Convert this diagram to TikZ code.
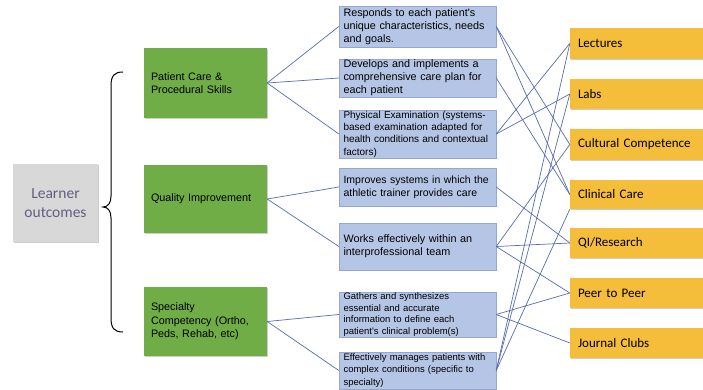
\documentclass[tikz,border=0pt]{standalone}
\usepackage{fontspec}
\newfontfamily\arialf{Liberation Sans}
\newfontfamily\calf{Carlito}
\usetikzlibrary{shadows}
\definecolor{bluefill}{RGB}{181,197,229}
\definecolor{blueline}{RGB}{150,166,208}
\definecolor{greenfill}{RGB}{112,173,71}
\definecolor{yellowfill}{RGB}{244,189,58}
\definecolor{grayfill}{RGB}{216,216,216}
\definecolor{learnertext}{RGB}{98,93,130}
\definecolor{linkcol}{RGB}{88,108,178}
\begin{document}
\begin{tikzpicture}[x=1pt,y=-1pt,
  shd/.style={drop shadow={shadow xshift=1.3pt,shadow yshift=-1.3pt,opacity=0.28,fill=black!70}},
  graybox/.style={fill=grayfill, minimum width=85pt, minimum height=78pt, inner sep=0pt, align=center,
    font=\calf\fontsize{15.5}{19}\selectfont, text=learnertext, shd},
  greenbox/.style={fill=greenfill, minimum width=123pt, text width=109pt, inner xsep=7pt, inner ysep=0pt,
    align=left, font=\arialf\fontsize{10.8}{13.5}\selectfont, shd},
  bluebox/.style={fill=bluefill, draw=blueline, line width=0.4pt, minimum width=157pt, text width=148pt,
    inner xsep=4.5pt, inner ysep=0pt, align=left, font=\arialf\fontsize{10.8}{13}\selectfont, shd},
  yellowbox/.style={fill=yellowfill, minimum width=136pt, text width=120pt, inner xsep=7pt, inner ysep=0pt,
    align=left, font=\calf\fontsize{13}{15}\selectfont, shd},
  link/.style={draw=linkcol, line width=0.7pt}]
\useasboundingbox (0,0) rectangle (703,390);
\fill[white] (0,0) rectangle (703,390);

% left box and brace
\node[graybox] (lo) at (55.5,203) {Learner\\outcomes};
\draw[line width=1pt] (123,72) .. controls (114,72) and (111,76) .. (111,86) -- (111,196)
  .. controls (111,203) and (108,207) .. (103,207)
  .. controls (108,207) and (111,211) .. (111,218) -- (111,318)
  .. controls (111,328) and (114,332) .. (123,332);

% green boxes
\node[greenbox, minimum height=70pt] (pc) at (205.5,83) {Patient Care \&\\Procedural Skills};
\node[greenbox, minimum height=68pt] (qi) at (205.5,199) {Quality Improvement};
\node[greenbox, minimum height=69pt] (sc) at (205.5,321.5) {Specialty\\Competency (Ortho,\\Peds, Rehab, etc)};

% blue boxes
\node[bluebox, minimum height=41pt] (b1) at (417.5,26.5) {\mbox{Responds to each patient's}\\\mbox{unique characteristics, needs}\\\mbox{and goals.}};
\node[bluebox, minimum height=38pt] (b2) at (417.5,78) {\mbox{Develops and implements a}\\\mbox{comprehensive care plan for}\\\mbox{each patient}};
\node[bluebox, minimum height=48pt, font=\arialf\fontsize{10}{12.3}\selectfont] (b3) at (417.5,134) {\mbox{Physical Examination (systems-}\\\mbox{based examination adapted for}\\\mbox{health conditions and contextual}\\\mbox{factors)}};
\node[bluebox, minimum height=38pt, font=\arialf\fontsize{10.5}{13}\selectfont] (b4) at (417.5,187) {\mbox{Improves systems in which the}\\\mbox{athletic trainer provides care}};
\node[bluebox, minimum height=47pt] (b5) at (417.5,246.5) {\mbox{Works effectively within an}\\\mbox{interprofessional team}};
\node[bluebox, minimum height=45pt, font=\arialf\fontsize{9.5}{11.8}\selectfont] (b6) at (417.5,314.5) {\mbox{Gathers and synthesizes}\\\mbox{essential and accurate}\\\mbox{information to define each}\\\mbox{patient's clinical problem(s)}};
\node[bluebox, minimum height=37pt, font=\arialf\fontsize{9.5}{12.3}\selectfont] (b7) at (417.5,370.5) {\mbox{Effectively manages patients with}\\\mbox{complex conditions (specific to}\\\mbox{specialty)}};

% yellow boxes
\node[yellowbox, minimum height=31pt] (lec) at (638,43.5) {Lectures};
\node[yellowbox, minimum height=30pt] (lab) at (638,94) {Labs};
\node[yellowbox, minimum height=31pt] (cul) at (638,144.5) {Cultural Competence};
\node[yellowbox, minimum height=29pt] (cli) at (638,194.5) {Clinical Care};
\node[yellowbox, minimum height=30pt] (qr) at (638,243) {QI/Research};
\node[yellowbox, minimum height=30pt] (pp) at (638,293) {Peer to Peer};
\node[yellowbox, minimum height=30pt] (jc) at (638,343) {Journal Clubs};

% green -> blue
\draw[link] (pc.east) -- (b1.west);
\draw[link] (pc.east) -- (b2.west);
\draw[link] (pc.east) -- (b3.west);
\draw[link] (qi.east) -- (b4.west);
\draw[link] (qi.east) -- (b5.west);
\draw[link] (sc.east) -- (b6.west);
\draw[link] (sc.east) -- (b7.west);

% blue -> yellow
\draw[link] (b1.east) -- (cul.west);
\draw[link] (b1.east) -- (cli.west);
\draw[link] (b2.east) -- (cli.west);
\draw[link] (b3.east) -- (lec.west);
\draw[link] (b3.east) -- (lab.west);
\draw[link] (b4.east) -- (qr.west);
\draw[link] (b5.east) -- (cul.west);
\draw[link] (b5.east) -- (qr.west);
\draw[link] (b5.east) -- (pp.west);
\draw[link] (b6.east) -- (pp.west);
\draw[link] (b6.east) -- (jc.west);
\draw[link] (b7.east) -- (lec.west);
\draw[link] (b7.east) -- (lab.west);
\draw[link] (b7.east) -- (cli.south west);
\end{tikzpicture}
\end{document}
